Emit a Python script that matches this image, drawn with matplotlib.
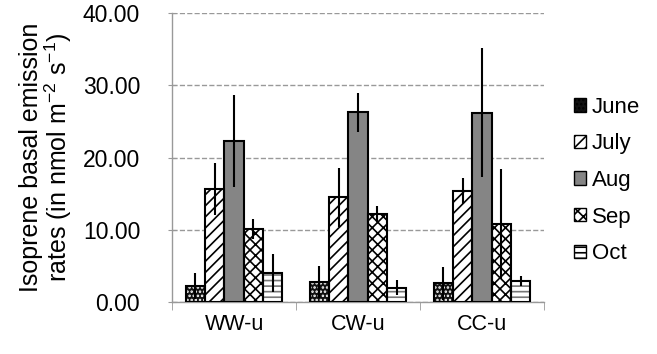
import numpy as np
import matplotlib.pyplot as plt
from matplotlib.patches import Patch

plt.rcParams['font.family'] = ['Liberation Sans', 'DejaVu Sans']
plt.rcParams['hatch.linewidth'] = 1.2

sites = ['WW-u', 'CW-u', 'CC-u']
months = ['June', 'July', 'Aug', 'Sep', 'Oct']
june = [2.2, 2.8, 2.6]
july = [15.6, 14.5, 15.3]
aug = [22.3, 26.3, 26.2]
sep = [10.1, 12.2, 10.8]
oct_ = [4.0, 2.0, 2.9]
june_err = [1.8, 2.2, 2.3]
july_err = [3.6, 4.1, 1.8]
aug_err = [6.4, 2.7, 8.9]
sep_err = [1.4, 1.1, 7.6]
oct_err = [2.6, 1.0, 0.7]

values = [june, july, aug, sep, oct_]
errors = [june_err, july_err, aug_err, sep_err, oct_err]
# face colour, hatch, hatch colour
styles = [('#111111', '....', 'white'),
          ('white', '///', 'black'),
          ('#858585', '', 'black'),
          ('white', 'xxx', 'black'),
          ('white', '---', '#777777')]

fig = plt.figure(figsize=(6.57, 3.54), dpi=100)
ax = fig.add_axes([0.262, 0.147, 0.566, 0.816])

x = np.arange(len(sites))
w = 0.156
handles = []
for i in range(5):
    pos = x + (i - 2) * w
    fc, hatch, hc = styles[i]
    ax.bar(pos, values[i], w, color=fc, hatch=hatch, edgecolor=hc, linewidth=0, zorder=2)
    ax.bar(pos, values[i], w, fill=False, edgecolor='black', linewidth=1.5, zorder=3)
    ax.errorbar(pos, values[i], yerr=errors[i], fmt='none', ecolor='black',
                elinewidth=1.5, capsize=0, zorder=4)
    handles.append(Patch(facecolor=fc, hatch=hatch, edgecolor='black', linewidth=1))

ax.set_xlim(-0.5, 2.5)
ax.set_ylim(0, 40)
ax.set_yticks([0, 10, 20, 30, 40])
ax.set_yticklabels(['%.2f' % v for v in [0, 10, 20, 30, 40]])
ax.set_xticks(x)
ax.set_xticklabels(sites)
ax.set_xticks([-0.5, 0.5, 1.5, 2.5], minor=True)
ax.tick_params(axis='x', which='major', length=0, labelsize=15.5, pad=9)
ax.tick_params(axis='x', which='minor', length=6, color='#999999', direction='out')
ax.tick_params(axis='y', length=6, color='#999999', direction='inout', labelsize=16.5, pad=20)
ax.yaxis.grid(True, linestyle='--', color='#999999', linewidth=1, zorder=0)
ax.set_axisbelow(True)
for s in ['top', 'right']:
    ax.spines[s].set_visible(False)
for s in ['left', 'bottom']:
    ax.spines[s].set_color('#999999')
    ax.spines[s].set_linewidth(1)

ax.set_ylabel('Isoprene basal emission\nrates (in nmol m$^{\\mathregular{-2}}$ s$^{\\mathregular{-1}}$)',
              fontsize=18, linespacing=1.0, labelpad=6)

fig.legend(handles, months, loc='center left', bbox_to_anchor=(0.843, 0.49), frameon=False,
           fontsize=16, handlelength=0.55, handleheight=0.55, handletextpad=0.25,
           labelspacing=0.7)

fig.savefig('out.png', dpi=100)
